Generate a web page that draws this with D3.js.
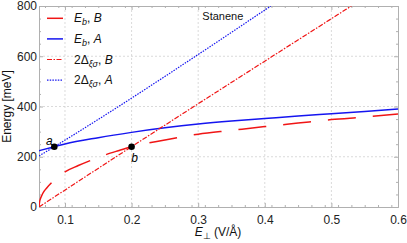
<!DOCTYPE html>
<html>
<head>
<meta charset="utf-8">
<script src="https://cdn.jsdelivr.net/npm/d3@7"></script>
<style>
    body { margin: 0; background: white; }
    text { font-family: "Liberation Sans", Arial, sans-serif; }
</style>
</head>
<body>
<div id="chart"></div>
<script>
// Data
var ebBx = [0.061, 0.0615, 0.062, 0.063, 0.065, 0.068, 0.072, 0.08, 0.09, 0.10, 0.12, 0.14, 0.16, 0.18, 0.20, 0.25, 0.30, 0.35, 0.40, 0.45, 0.50, 0.55, 0.60];
var ebBy = [0, 14, 22, 32, 45, 60, 74, 97, 120, 140, 165, 187, 207, 224, 240, 267, 290, 305, 320, 334, 348, 358, 370];

var ebAx = [0.061, 0.084, 0.10, 0.15, 0.20, 0.25, 0.30, 0.35, 0.40, 0.45, 0.50, 0.55, 0.60];
var ebAy = [224, 240, 251, 276, 297, 315, 330, 342, 352, 362, 371, 380, 390];

var gapBx = [0.061, 0.20, 0.530];
var gapBy = [0, 240, 800];

var gapAx = [0.061, 0.084, 0.409];
var gapAy = [203, 240, 800];

var points = [{x: 0.084, y: 240, label: "a"}, {x: 0.20, y: 240, label: "b"}];

var xTicks = [0.1, 0.2, 0.3, 0.4, 0.5, 0.6];
var yTicks = [0, 200, 400, 600, 800];

// Define height and width of svg
var svgWidth = 407;
var svgHeight = 243;

var margin = {top: 6, right: 9, bottom: 36, left: 39};
var width = svgWidth - margin.left - margin.right;
var height = svgHeight - margin.top - margin.bottom;

var svg = d3.select("#chart")
    .append("svg")
    .attr("width", svgWidth)
    .attr("height", svgHeight);

var chartGroup = svg.append("g")
    .attr("transform", `translate(${margin.left}, ${margin.top})`);

var xScale = d3.scaleLinear().domain([0.061, 0.6]).range([0, width]);
var yScale = d3.scaleLinear().domain([0, 800]).range([height, 0]);

// Gridlines
chartGroup.selectAll(".vgrid")
    .data(xTicks.slice(0, -1))
    .enter()
    .append("line")
    .attr("x1", d => xScale(d)).attr("x2", d => xScale(d))
    .attr("y1", 0).attr("y2", height)
    .attr("stroke", "#d0d0d0")
    .attr("stroke-width", 0.8)
    .attr("stroke-dasharray", "2,2");

chartGroup.selectAll(".hgrid")
    .data(yTicks.slice(1, -1))
    .enter()
    .append("line")
    .attr("x1", 0).attr("x2", width)
    .attr("y1", d => yScale(d)).attr("y2", d => yScale(d))
    .attr("stroke", "#d0d0d0")
    .attr("stroke-width", 0.8)
    .attr("stroke-dasharray", "2,2");

// Axes with inward ticks
var minorX = d3.range(0.07, 0.6, 0.02).filter(v => Math.abs(v * 10 - Math.round(v * 10)) > 0.01);
var minorY = d3.range(50, 800, 50).filter(v => v % 200 != 0);

function frameAxis(axis, transform) {
    var g = chartGroup.append("g")
        .attr("transform", transform)
        .call(axis);
    g.select(".domain").attr("stroke", "#b0b0b0");
    g.selectAll(".tick line").attr("stroke", "#b0b0b0");
    g.selectAll("text")
        .attr("font-size", "12px")
        .attr("fill", "#222");
    return g;
}

frameAxis(d3.axisBottom(xScale).tickValues(xTicks).tickSizeInner(-4).tickSizeOuter(0).tickPadding(8).tickFormat(d3.format(".1f")), `translate(0, ${height})`);
frameAxis(d3.axisBottom(xScale).tickValues(minorX).tickSizeInner(-2).tickSizeOuter(0).tickFormat(""), `translate(0, ${height})`);
frameAxis(d3.axisTop(xScale).tickValues(xTicks).tickSizeInner(-4).tickSizeOuter(0).tickFormat(""), "translate(0, 0)");
frameAxis(d3.axisTop(xScale).tickValues(minorX).tickSizeInner(-2).tickSizeOuter(0).tickFormat(""), "translate(0, 0)");
frameAxis(d3.axisLeft(yScale).tickValues(yTicks).tickSizeInner(-4).tickSizeOuter(0).tickPadding(2), "translate(0, 0)");
frameAxis(d3.axisLeft(yScale).tickValues(minorY).tickSizeInner(-2).tickSizeOuter(0).tickFormat(""), "translate(0, 0)");
frameAxis(d3.axisRight(yScale).tickValues(yTicks).tickSizeInner(-4).tickSizeOuter(0).tickFormat(""), `translate(${width}, 0)`);
frameAxis(d3.axisRight(yScale).tickValues(minorY).tickSizeInner(-2).tickSizeOuter(0).tickFormat(""), `translate(${width}, 0)`);

// Clip curves to the frame
chartGroup.append("clipPath")
    .attr("id", "clip")
    .append("rect")
    .attr("width", width)
    .attr("height", height);

var line = d3.line()
    .x(d => xScale(d[0]))
    .y(d => yScale(d[1]))
    .curve(d3.curveMonotoneX);

var series = [
    {x: ebAx, y: ebAy, color: "#1515f0", dash: null, w: 1.5},
    {x: ebBx, y: ebBy, color: "#f01515", dash: "28,17", w: 1.5},
    {x: gapBx, y: gapBy, color: "#f01515", dash: "5,1.5,1.5,1.5", w: 1.2},
    {x: gapAx, y: gapAy, color: "#1515f0", dash: "1.5,1.2", w: 1.2}
];

series.forEach(s => {
    chartGroup.append("path")
        .datum(s.x.map((v, i) => [v, s.y[i]]))
        .attr("d", line)
        .attr("clip-path", "url(#clip)")
        .attr("fill", "none")
        .attr("stroke", s.color)
        .attr("stroke-width", s.w)
        .attr("stroke-dasharray", s.dash);
});

// Marked points
chartGroup.selectAll(".pt")
    .data(points)
    .enter()
    .append("circle")
    .attr("cx", d => xScale(d.x))
    .attr("cy", d => yScale(d.y))
    .attr("r", 3.3)
    .attr("fill", "black");

chartGroup.selectAll(".ptlabel")
    .data(points)
    .enter()
    .append("text")
    .attr("x", d => xScale(d.x) + (d.label == "a" ? -5 : 3))
    .attr("y", d => yScale(d.y) + (d.label == "a" ? -2 : 15))
    .attr("text-anchor", "middle")
    .attr("font-size", "12px")
    .attr("font-style", "italic")
    .text(d => d.label);

// Legend
var legendItems = [
    {color: "#f01515", dash: "28,17", w: 1.5, kind: "eb", tail: "B"},
    {color: "#1515f0", dash: null, w: 1.5, kind: "eb", tail: "A"},
    {color: "#f01515", dash: "5,1.5,1.5,1.5", w: 1.2, kind: "gap", tail: "B"},
    {color: "#1515f0", dash: "1.5,1.2", w: 1.2, kind: "gap", tail: "A"}
];

legendItems.forEach((item, i) => {
    var ly = 12.3 + i * 20.6;
    chartGroup.append("line")
        .attr("x1", 8).attr("x2", 24)
        .attr("y1", ly).attr("y2", ly)
        .attr("stroke", item.color)
        .attr("stroke-width", item.w)
        .attr("stroke-dasharray", item.dash);

    var t = chartGroup.append("text")
        .attr("x", 35)
        .attr("y", ly + 4)
        .attr("font-size", "12px")
        .attr("fill", "#111");
    if (item.kind == "eb") {
        t.append("tspan").attr("font-style", "italic").text("E");
        t.append("tspan").attr("font-style", "italic").attr("font-size", "9px").attr("dy", 3).text("b");
        t.append("tspan").attr("dy", -3).text(", ");
    } else {
        t.append("tspan").text("2Δ");
        t.append("tspan").attr("font-style", "italic").attr("font-size", "9px").attr("dy", 3).text("ξσ");
        t.append("tspan").attr("dy", -3).text(", ");
    }
    t.append("tspan").attr("font-style", "italic").text(item.tail);
});

// Title inside plot
chartGroup.append("text")
    .attr("x", xScale(0.337))
    .attr("y", 14)
    .attr("text-anchor", "middle")
    .attr("font-size", "11px")
    .attr("fill", "#111")
    .text("Stanene");

// Axis labels
var xl = svg.append("text")
    .attr("x", 218)
    .attr("y", 236)
    .attr("text-anchor", "middle")
    .attr("font-size", "12px")
    .attr("fill", "#111");
xl.append("tspan").attr("font-style", "italic").text("E");
xl.append("tspan").attr("font-size", "9px").attr("dy", 3).text("⊥");
xl.append("tspan").attr("dy", -3).text(" (V/Å)");

svg.append("text")
    .attr("transform", `translate(11, ${margin.top + height / 2}) rotate(-90)`)
    .attr("text-anchor", "middle")
    .attr("font-size", "12px")
    .attr("fill", "#111")
    .text("Energy [meV]");
</script>
</body>
</html>
